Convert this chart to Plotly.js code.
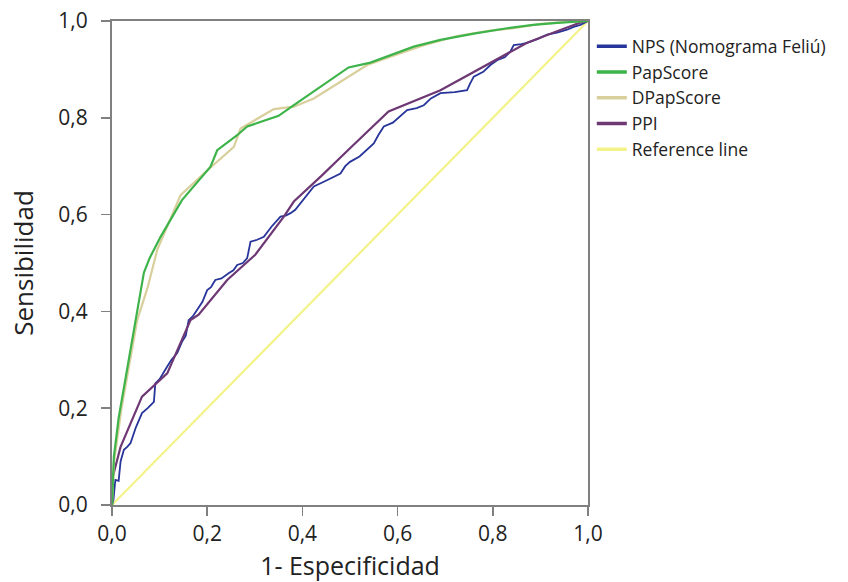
<!DOCTYPE html>
<html>
<head>
<meta charset="utf-8">
<script src="https://cdn.plot.ly/plotly-3.0.1.min.js"></script>
<style>html,body{margin:0;padding:0;background:#fff;}#chart{width:848px;height:582px;}</style>
</head>
<body>
<div id="chart"></div>
<script>
// 1 - specificity (x) and sensitivity (y) for each ROC curve
const papX = [0, 0.004, 0.014, 0.04, 0.067, 0.079, 0.102, 0.147, 0.207, 0.221, 0.263, 0.284, 0.35, 0.382, 0.44, 0.497, 0.543, 0.585, 0.634, 0.69, 0.76, 0.83, 0.885, 0.935, 0.99, 1];
const papY = [0, 0.10, 0.18, 0.33, 0.48, 0.51, 0.554, 0.63, 0.699, 0.733, 0.764, 0.782, 0.804, 0.826, 0.865, 0.904, 0.914, 0.93, 0.947, 0.961, 0.974, 0.985, 0.992, 0.996, 1.0, 1];

const dpapX = [0, 0.004, 0.02, 0.053, 0.075, 0.095, 0.144, 0.193, 0.256, 0.27, 0.34, 0.382, 0.424, 0.497, 0.536, 0.585, 0.655, 0.725, 0.795, 0.844, 0.90, 0.97, 1];
const dpapY = [0, 0.087, 0.20, 0.382, 0.45, 0.527, 0.64, 0.685, 0.74, 0.778, 0.818, 0.823, 0.84, 0.885, 0.909, 0.926, 0.95, 0.969, 0.98, 0.985, 0.994, 0.999, 1];

const ppiX = [0, 0.0, 0.018, 0.063, 0.116, 0.165, 0.182, 0.242, 0.301, 0.361, 0.382, 0.44, 0.50, 0.581, 0.69, 0.795, 0.872, 0.935, 0.99, 1];
const ppiY = [0, 0.052, 0.12, 0.224, 0.272, 0.382, 0.393, 0.465, 0.517, 0.596, 0.627, 0.68, 0.737, 0.813, 0.857, 0.913, 0.955, 0.979, 0.999, 1];

const npsX = [0, 0.003, 0.007, 0.014, 0.018, 0.025, 0.032, 0.039, 0.05, 0.063, 0.075, 0.088, 0.091, 0.10, 0.116, 0.125, 0.137, 0.147, 0.155, 0.161, 0.17, 0.179, 0.19, 0.2, 0.208, 0.217, 0.23, 0.245, 0.255, 0.263, 0.275, 0.284, 0.291, 0.305, 0.319, 0.335, 0.354, 0.365, 0.375, 0.385, 0.396, 0.41, 0.424, 0.445, 0.466, 0.48, 0.49, 0.50, 0.52, 0.55, 0.56, 0.571, 0.59, 0.62, 0.64, 0.655, 0.67, 0.69, 0.72, 0.746, 0.752, 0.76, 0.78, 0.795, 0.809, 0.825, 0.837, 0.844, 0.86, 0.872, 0.895, 0.914, 0.935, 0.956, 0.97, 0.984, 1];
const npsY = [0, 0.01, 0.052, 0.05, 0.09, 0.114, 0.12, 0.128, 0.16, 0.19, 0.20, 0.213, 0.251, 0.26, 0.286, 0.30, 0.314, 0.337, 0.35, 0.382, 0.39, 0.403, 0.42, 0.444, 0.45, 0.465, 0.468, 0.479, 0.485, 0.496, 0.50, 0.51, 0.544, 0.548, 0.554, 0.575, 0.596, 0.598, 0.603, 0.61, 0.623, 0.64, 0.658, 0.668, 0.678, 0.685, 0.70, 0.709, 0.72, 0.747, 0.765, 0.782, 0.79, 0.816, 0.82, 0.826, 0.84, 0.851, 0.853, 0.857, 0.87, 0.885, 0.895, 0.909, 0.919, 0.925, 0.937, 0.95, 0.952, 0.955, 0.963, 0.972, 0.976, 0.982, 0.988, 0.992, 1];

const refX = [0, 1];
const refY = [0, 1];

const seriesNames = ["NPS (Nomograma Feliú)", "PapScore", "DPapScore", "PPI", "Reference line"];
const seriesColors = ["#27349a", "#3db34a", "#d9cf9c", "#6d3874", "#f3f38a"];
const tickVals = [0, 0.2, 0.4, 0.6, 0.8, 1.0];
const tickText = ["0,0", "0,2", "0,4", "0,6", "0,8", "1,0"];

const xs = [npsX, papX, dpapX, ppiX, refX];
const ys = [npsY, papY, dpapY, ppiY, refY];
const widths = [1.8, 2.2, 2.2, 2.2, 2.2];

const traces = [];
// drawn curves (reference line first so it sits underneath)
[4, 0, 3, 2, 1].forEach(i => {
  traces.push({x: xs[i], y: ys[i], name: seriesNames[i], mode: "lines", showlegend: false,
    line: {color: seriesColors[i], width: widths[i]}});
});
// legend entries with thicker sample lines
seriesNames.forEach((n, i) => {
  traces.push({x: [null], y: [null], name: n, mode: "lines", showlegend: true,
    line: {color: seriesColors[i], width: 3.5}});
});

const axisCommon = {
  range: [0, 1],
  tickvals: tickVals,
  ticktext: tickText,
  showgrid: false,
  zeroline: false,
  showline: true,
  mirror: true,
  linecolor: "#808080",
  linewidth: 2,
  ticks: "outside",
  ticklen: 9,
  tickcolor: "#808080",
  tickwidth: 1.5,
  tickfont: {family: "Open Sans", size: 21, color: "#222"}
};

const layout = {
  width: 848,
  height: 582,
  margin: {l: 111.5, r: 260, t: 21, b: 77},
  paper_bgcolor: "#fff",
  plot_bgcolor: "#fff",
  showlegend: true,
  xaxis: Object.assign({}, axisCommon, {
    automargin: false,
    ticklabelstandoff: 0,
    title: {text: "1- Especificidad", font: {family: "Open Sans", size: 25, color: "#222"}, standoff: 14}
  }),
  yaxis: Object.assign({}, axisCommon, {
    automargin: false,
    ticklabelstandoff: 9,
    title: {text: "Sensibilidad", font: {family: "Open Sans", size: 26, color: "#222"}, standoff: 17}
  }),
  legend: {
    x: 1.008, y: 0.985, xanchor: "left", yanchor: "top",
    font: {family: "Open Sans", size: 17.5, color: "#222"},
    bgcolor: "rgba(0,0,0,0)",
    traceorder: "normal",
    itemwidth: 30
  }
};

Plotly.newPlot("chart", traces, layout, {displayModeBar: false, staticPlot: true});
</script>
</body>
</html>
